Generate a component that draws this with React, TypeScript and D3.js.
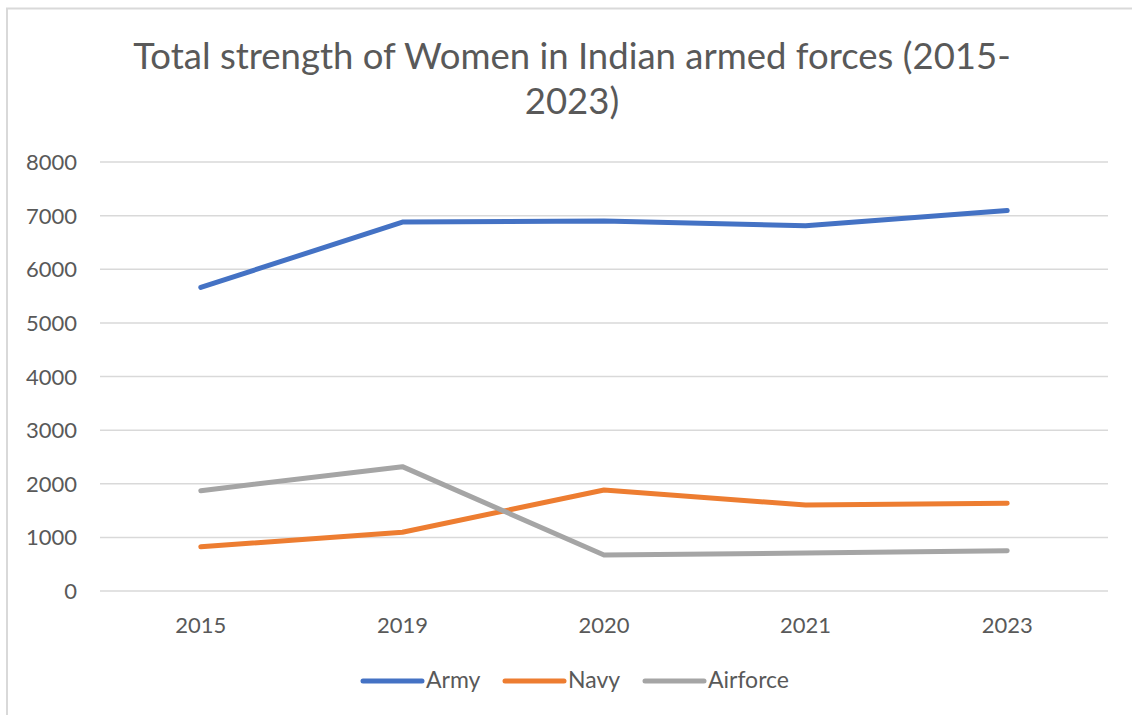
import React from "react";
import * as d3 from "d3";

const years = ["2015", "2019", "2020", "2021", "2023"];
const army = [5660, 6880, 6900, 6810, 7095];
const navy = [826, 1095, 1884, 1604, 1636];
const airforce = [1871, 2319, 672, 709, 752];
const yTicks = [0, 1000, 2000, 3000, 4000, 5000, 6000, 7000, 8000];
const seriesNames = ["Army", "Navy", "Airforce"];
const seriesColors = ["#4472C4", "#ED7D31", "#A5A5A5"];

const W = 1132;
const H = 715;
const FONT = "Lato, 'Open Sans', sans-serif";

export default function App() {
  const x = d3.scalePoint<string>().domain(years).range([100, 1108]).padding(0.5);
  const y = d3.scaleLinear().domain([0, 8000]).range([591, 162]);
  const line = d3
    .line<number>()
    .x((_, i) => x(years[i]) as number)
    .y((d) => y(d));
  const all = [army, navy, airforce];
  const legendX = [363, 505, 645];
  return (
    <svg
      width={W}
      height={H}
      style={{ position: "absolute", left: 0, top: 0 }}
    >
      <rect x={0} y={0} width={W} height={H} fill="#fff" />
      <rect x={7} y={8.5} width={W + 20} height={H + 20} fill="#fff" stroke="#d9d9d9" strokeWidth={2} />
      <text x={572} y={69} textAnchor="middle" fontFamily={FONT} fontSize={36.5} fill="#595959">
        Total strength of Women in Indian armed forces (2015-
      </text>
      <text x={572} y={114} textAnchor="middle" fontFamily={FONT} fontSize={36.5} fill="#595959">
        2023)
      </text>
      {yTicks.map((t) => (
        <g key={t}>
          <line x1={100} x2={1108} y1={y(t)} y2={y(t)} stroke="#d9d9d9" strokeWidth={1.5} />
          <text x={77} y={y(t) + 8} textAnchor="end" fontFamily={FONT} fontSize={22} fill="#595959">
            {t}
          </text>
        </g>
      ))}
      {years.map((yr) => (
        <text key={yr} x={x(yr)} y={633} textAnchor="middle" fontFamily={FONT} fontSize={22} fill="#595959">
          {yr}
        </text>
      ))}
      {all.map((s, i) => (
        <path
          key={i}
          d={line(s) || ""}
          fill="none"
          stroke={seriesColors[i]}
          strokeWidth={5}
          strokeLinecap="round"
          strokeLinejoin="round"
        />
      ))}
      {seriesNames.map((n, i) => (
        <g key={n}>
          <line
            x1={legendX[i]}
            x2={legendX[i] + 59}
            y1={681}
            y2={681}
            stroke={seriesColors[i]}
            strokeWidth={5}
            strokeLinecap="round"
          />
          <text x={legendX[i] + 63} y={688} fontFamily={FONT} fontSize={23} fill="#595959">
            {n}
          </text>
        </g>
      ))}
    </svg>
  );
}
